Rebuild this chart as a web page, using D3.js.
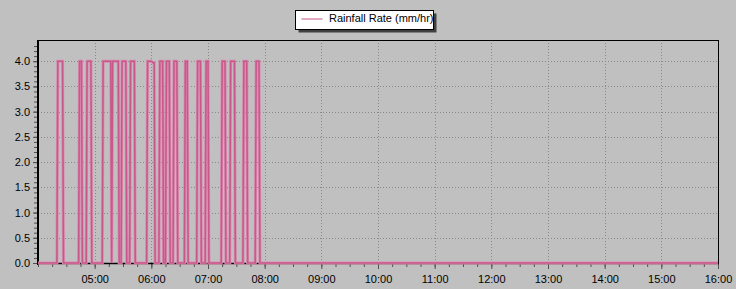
<!DOCTYPE html>
<html>
<head>
<meta charset="utf-8">
<script src="https://cdn.jsdelivr.net/npm/d3@7"></script>
<style>
  body { margin: 0; background: #c0c0c0; }
  svg { display: block; font-family: "Liberation Sans", Arial, sans-serif; }
</style>
</head>
<body>
<svg id="chart"></svg>
<script>
// Données (heure, mm/hr)
const times = [
  "04:00",
  "04:20", "04:21", "04:26", "04:27",
  "04:43", "04:44", "04:46", "04:47",
  "04:51", "04:52", "04:56", "04:57",
  "05:08", "05:09", "05:17", "05:18", "05:19", "05:25", "05:26",
  "05:28", "05:29", "05:33", "05:34",
  "05:37", "05:38", "05:42", "05:43",
  "05:55", "05:56", "06:00", "06:02", "06:03", "06:04",
  "06:08", "06:09", "06:12", "06:13",
  "06:15", "06:16", "06:19", "06:20",
  "06:23", "06:24", "06:27", "06:28",
  "06:35", "06:36", "06:38", "06:39",
  "06:48", "06:49", "06:52", "06:53",
  "06:57", "06:58", "07:00", "07:01",
  "07:14", "07:15", "07:18", "07:19",
  "07:23", "07:24", "07:28", "07:29",
  "07:37", "07:38", "07:41", "07:42",
  "07:50", "07:51", "07:54", "07:55",
  "16:00"
];
const rainRate = [
  0,
  0, 4, 4, 0,
  0, 4, 4, 0,
  0, 4, 4, 0,
  0, 4, 4, 0, 4, 4, 0,
  0, 4, 4, 0,
  0, 4, 4, 0,
  0, 4, 4, 3.97, 3.97, 0,
  0, 4, 4, 0,
  0, 4, 4, 0,
  0, 4, 4, 0,
  0, 4, 4, 0,
  0, 4, 4, 0,
  0, 4, 4, 0,
  0, 4, 4, 0,
  0, 4, 4, 0,
  0, 4, 4, 0,
  0, 4, 4, 0,
  0
];
const yTicks = [0, 0.5, 1.0, 1.5, 2.0, 2.5, 3.0, 3.5, 4.0];
const xTickLabels = ["05:00", "06:00", "07:00", "08:00", "09:00", "10:00",
  "11:00", "12:00", "13:00", "14:00", "15:00", "16:00"];
const seriesName = "Rainfall Rate (mm/hr)";

// Dimensions
const width = 736;
const height = 289;
const plotLeft = 38, plotRight = 718, plotTop = 40, plotBottom = 263;

const parse = d3.timeParse("%H:%M");
const data = times.map((t, i) => ({ t: parse(t), v: rainRate[i] }));

const x = d3.scaleTime()
    .domain([parse("04:00"), parse("16:00")])
    .range([plotLeft, plotRight]);
const y = d3.scaleLinear()
    .domain([0, 4.42])
    .range([plotBottom, plotTop]);

const svg = d3.select("#chart")
    .attr("width", width)
    .attr("height", height);

// Fond
svg.append("rect")
    .attr("width", width).attr("height", height)
    .attr("fill", "#c0c0c0");

// Grille
const grid = svg.append("g");
grid.selectAll(".gx")
    .data(xTickLabels.slice(0, -1).map(parse))
    .enter().append("line")
    .attr("x1", d => Math.round(x(d)) + 0.5)
    .attr("x2", d => Math.round(x(d)) + 0.5)
    .attr("y1", plotTop).attr("y2", plotBottom)
    .attr("stroke", "#8a8a8a")
    .attr("stroke-dasharray", "1,2");
grid.selectAll(".gy")
    .data(yTicks.slice(1))
    .enter().append("line")
    .attr("x1", plotLeft).attr("x2", plotRight)
    .attr("y1", d => Math.round(y(d)) + 0.5)
    .attr("y2", d => Math.round(y(d)) + 0.5)
    .attr("stroke", "#8a8a8a")
    .attr("stroke-dasharray", "1,2");

// Axe Y
const yAxis = svg.append("g")
    .attr("transform", `translate(${plotLeft - 1},0)`)
    .call(d3.axisLeft(y).tickValues(yTicks).tickSize(4).tickPadding(3)
        .tickFormat(d3.format(".1f")));
const yMinor = svg.append("g")
    .attr("transform", `translate(${plotLeft - 1},0)`)
    .call(d3.axisLeft(y).tickValues(d3.range(0, 44).map(i => i / 10))
        .tickSize(3).tickFormat(""));

// Axe X
const xAxis = svg.append("g")
    .attr("transform", `translate(0,${plotBottom + 1})`)
    .call(d3.axisBottom(x).tickValues(xTickLabels.map(parse)).tickSize(5)
        .tickPadding(6).tickFormat(d3.timeFormat("%H:%M")));
const xMinor = svg.append("g")
    .attr("transform", `translate(0,${plotBottom + 1})`)
    .call(d3.axisBottom(x).ticks(d3.timeMinute.every(15)).tickSize(3).tickFormat(""));

[yAxis, yMinor, xAxis, xMinor].forEach(g => {
    g.select(".domain").remove();
    g.selectAll("line").attr("stroke", "#505050");
    g.selectAll("text").attr("fill", "#000").attr("font-size", 11)
        .attr("font-family", "'Liberation Sans', Arial, sans-serif");
});

// Cadre
svg.append("line").attr("x1", plotLeft - 1).attr("x2", plotRight + 0.5)
    .attr("y1", plotTop + 0.5).attr("y2", plotTop + 0.5).attr("stroke", "#000");
svg.append("line").attr("x1", plotRight + 0.5).attr("x2", plotRight + 0.5)
    .attr("y1", plotTop).attr("y2", plotBottom + 1).attr("stroke", "#000");
svg.append("line").attr("x1", plotLeft).attr("x2", plotLeft)
    .attr("y1", plotTop).attr("y2", plotBottom + 2).attr("stroke", "#000").attr("stroke-width", 2);
svg.append("line").attr("x1", plotLeft - 1).attr("x2", plotRight + 1)
    .attr("y1", plotBottom + 0.5).attr("y2", plotBottom + 0.5).attr("stroke", "#000").attr("stroke-width", 1.5);

// Série
const line = d3.line().x(d => x(d.t)).y(d => y(d.v));
svg.append("path")
    .datum(data)
    .attr("d", line)
    .attr("fill", "none")
    .attr("stroke", "#d98cb0")
    .attr("stroke-width", 3)
    .attr("stroke-linejoin", "miter");
svg.append("path")
    .datum(data)
    .attr("d", line)
    .attr("fill", "none")
    .attr("stroke", "#c9578b")
    .attr("stroke-width", 1.5);

// Légende
const legend = svg.append("g").attr("transform", "translate(295.5,10.5)");
legend.append("rect")
    .attr("x", 3).attr("y", 3).attr("width", 138).attr("height", 19)
    .attr("fill", "#404040");
legend.append("rect")
    .attr("width", 138).attr("height", 19)
    .attr("fill", "#fff").attr("stroke", "#000");
legend.append("line")
    .attr("x1", 6).attr("x2", 27).attr("y1", 8.5).attr("y2", 8.5)
    .attr("stroke", "#c9578b");
legend.append("text")
    .attr("x", 33.5).attr("y", 11.5)
    .attr("font-size", 11)
    .attr("fill", "#000")
    .text(seriesName);
</script>
</body>
</html>
